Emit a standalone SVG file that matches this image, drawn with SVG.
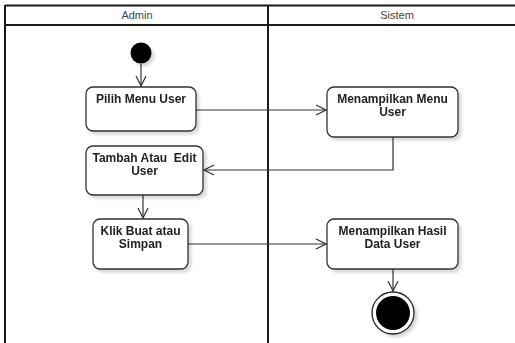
<svg xmlns="http://www.w3.org/2000/svg" width="515" height="343" viewBox="0 0 515 343">
  <style>
    .lane { fill: none; stroke: #1a1a1a; stroke-width: 2; }
    .hdr { font-family: "Liberation Sans", Arial, sans-serif; font-size: 11px; fill: #444; text-anchor: middle; }
    .act { fill: #fff; stroke: #333; stroke-width: 1.3; }
    .lbl { font-family: "Liberation Sans", Arial, sans-serif; font-size: 12px; font-weight: bold; fill: #222; text-anchor: middle; }
    .edge { fill: none; stroke: #333; stroke-width: 1.2; marker-end: url(#open); }
  </style>
  <defs>
    <marker id="open" viewBox="0 0 12 12" refX="11" refY="6" markerWidth="12" markerHeight="12" markerUnits="userSpaceOnUse" orient="auto">
      <path d="M1,1 L11,6 L1,11" fill="none" stroke="#333" stroke-width="1.2"/>
    </marker>
    <filter id="shadow" x="-20%" y="-20%" width="150%" height="160%">
      <feGaussianBlur in="SourceAlpha" stdDeviation="1.5"/>
      <feOffset dx="3" dy="3" result="b"/>
      <feComponentTransfer><feFuncA type="linear" slope="0.15"/></feComponentTransfer>
      <feMerge><feMergeNode/><feMergeNode in="SourceGraphic"/></feMerge>
    </filter>
  </defs>

  <rect width="515" height="343" fill="#fff"/>

  <!-- swimlanes -->
  <g id="lanes">
    <line class="lane" x1="5" y1="5.5" x2="515" y2="5.5"/>
    <line class="lane" x1="5" y1="25" x2="515" y2="25"/>
    <line class="lane" x1="5" y1="5" x2="5" y2="343"/>
    <line class="lane" x1="268" y1="5" x2="268" y2="343"/>
    <text class="hdr" x="137" y="19">Admin</text>
    <text class="hdr" x="397" y="19">Sistem</text>
  </g>

  <!-- connectors -->
  <g id="connectors">
    <path class="edge" d="M141,64 V86"/>
    <path class="edge" d="M196,110 H326"/>
    <path class="edge" d="M393,137 V170 H204"/>
    <path class="edge" d="M143,195 V218"/>
    <path class="edge" d="M188,244 H326"/>
    <path class="edge" d="M393,269 V291"/>
  </g>

  <g id="start">
    <circle cx="141" cy="53" r="10.5" fill="#000" filter="url(#shadow)"/>
  </g>

  <g id="pilih-menu-user" filter="url(#shadow)">
    <rect class="act" x="86" y="87" width="110" height="44" rx="7"/>
    <text class="lbl" x="141" y="103">Pilih Menu User</text>
  </g>

  <g id="menampilkan-menu-user" filter="url(#shadow)">
    <rect class="act" x="327" y="87" width="131" height="50" rx="7"/>
    <text class="lbl" x="392.5" y="103">Menampilkan Menu</text>
    <text class="lbl" x="392.5" y="116">User</text>
  </g>

  <g id="tambah-edit-user" filter="url(#shadow)">
    <rect class="act" x="86" y="146" width="117" height="49" rx="7"/>
    <text class="lbl" x="144.5" y="162" xml:space="preserve">Tambah Atau  Edit</text>
    <text class="lbl" x="144.5" y="175">User</text>
  </g>

  <g id="klik-buat-simpan" filter="url(#shadow)">
    <rect class="act" x="93" y="219" width="95" height="50" rx="7"/>
    <text class="lbl" x="140.5" y="235">Klik Buat atau</text>
    <text class="lbl" x="140.5" y="248">Simpan</text>
  </g>

  <g id="menampilkan-hasil" filter="url(#shadow)">
    <rect class="act" x="327" y="219" width="131" height="50" rx="7"/>
    <text class="lbl" x="392.5" y="235">Menampilkan Hasil</text>
    <text class="lbl" x="392.5" y="248">Data User</text>
  </g>

  <g id="end" filter="url(#shadow)">
    <circle cx="393" cy="313" r="21" fill="#fff" stroke="#222" stroke-width="1.3"/>
    <circle cx="393" cy="313" r="17" fill="#000"/>
  </g>
</svg>
